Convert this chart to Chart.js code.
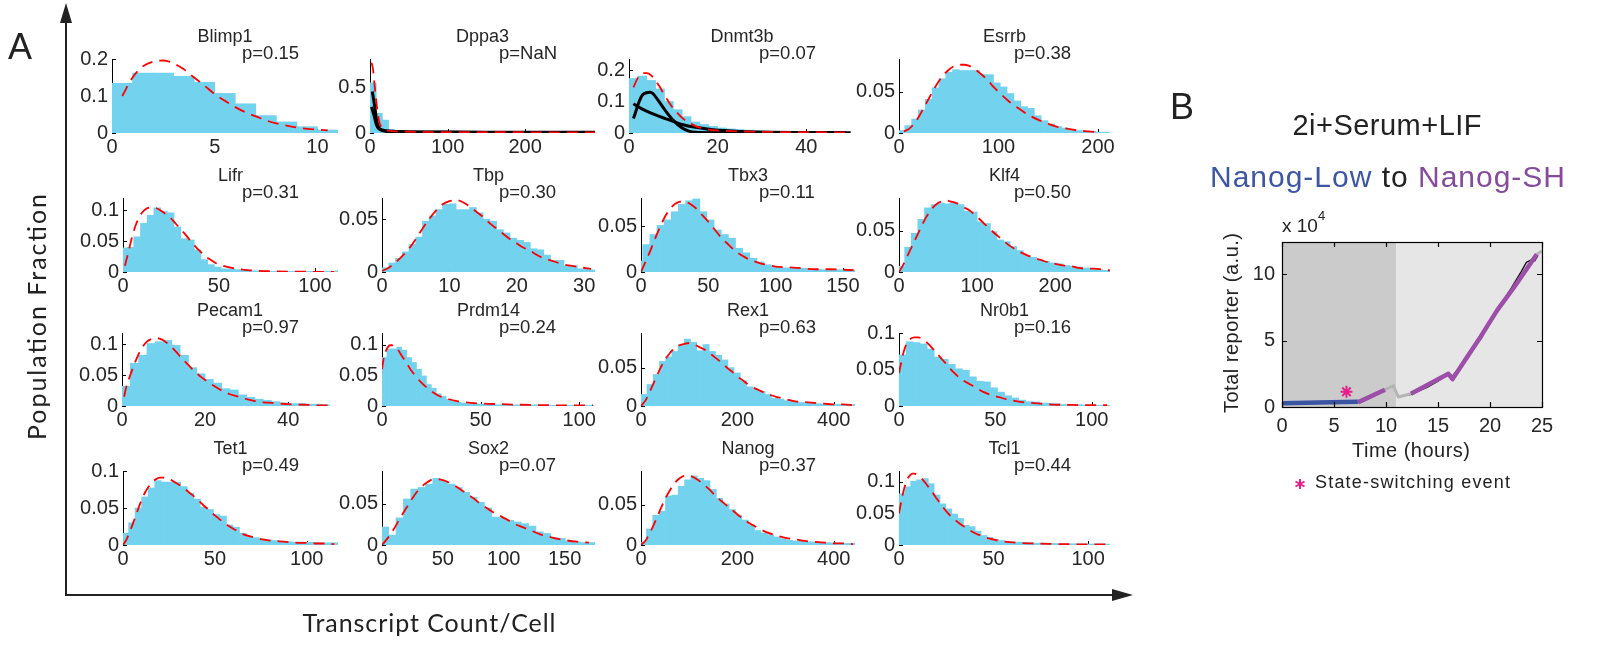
<!DOCTYPE html>
<html>
<head>
<meta charset="utf-8">
<script src="https://cdn.jsdelivr.net/npm/chart.js@4.4.1/dist/chart.umd.min.js"></script>
<style>
  body { margin: 0; background: #fff; }
  #page { position: relative; width: 1598px; height: 647px; overflow: hidden; background: #fff; }
  #page canvas { position: absolute; }
  #overlay { position: absolute; left: 0; top: 0; pointer-events: none; }
</style>
</head>
<body>
<div id="page">
  <svg id="overlay" width="1598" height="647">
    <!-- big axes arrows for panel A -->
    <line x1="66" y1="596" x2="66" y2="20" stroke="#222" stroke-width="2"/>
    <polygon points="66,3 60,23 72,23" fill="#222"/>
    <line x1="65" y1="595" x2="1114" y2="595" stroke="#222" stroke-width="2"/>
    <polygon points="1133,595 1112,589 1112,601" fill="#222"/>
    <text x="8" y="59" font-family="Liberation Sans, Arial, sans-serif" font-size="36" fill="#222">A</text>
    <text transform="translate(46,317) rotate(-90)" text-anchor="middle" font-family="Lato, sans-serif" font-size="25" fill="#222" textLength="246">Population Fraction</text>
    <text x="429" y="632" text-anchor="middle" font-family="Lato, sans-serif" font-size="25" fill="#222" textLength="253">Transcript Count/Cell</text>

    <text x="1170" y="119" font-family="Liberation Sans, Arial, sans-serif" font-size="36" fill="#222">B</text>
    <text x="1387" y="135" text-anchor="middle" font-family="Liberation Sans, Arial, sans-serif" font-size="29" fill="#222" textLength="189">2i+Serum+LIF</text>
    <text x="1210" y="187" font-family="Liberation Sans, Arial, sans-serif" font-size="30" textLength="355"><tspan fill="#3c56a5">Nanog-Low</tspan><tspan fill="#222"> to </tspan><tspan fill="#874a9c">Nanog-SH</tspan></text>
    <text x="1282" y="232" font-family="Liberation Sans, Arial, sans-serif" font-size="19" fill="#222">x 10<tspan font-size="13" dy="-12">4</tspan></text>
    <text transform="translate(1238,323) rotate(-90)" text-anchor="middle" font-family="Liberation Sans, Arial, sans-serif" font-size="20" fill="#222" textLength="180">Total reporter (a.u.)</text>
    <text x="1411" y="457" text-anchor="middle" font-family="Liberation Sans, Arial, sans-serif" font-size="20" fill="#222" textLength="118">Time (hours)</text>
    <g stroke="#e5208a" stroke-width="2" transform="translate(1300,484)">
      <line x1="0" y1="-5" x2="0" y2="5"/>
      <line x1="-4.5" y1="-2.5" x2="4.5" y2="2.5"/>
      <line x1="-4.5" y1="2.5" x2="4.5" y2="-2.5"/>
    </g>
    <text x="1315" y="488" font-family="Liberation Sans, Arial, sans-serif" font-size="18" fill="#222" textLength="195">State-switching event</text>
  </svg>
</div>
<script>
// ---------- panel A: transcript count histograms ----------
const genes = ['Blimp1', 'Dppa3', 'Dnmt3b', 'Esrrb',
               'Lifr', 'Tbp', 'Tbx3', 'Klf4',
               'Pecam1', 'Prdm14', 'Rex1', 'Nr0b1',
               'Tet1', 'Sox2', 'Nanog', 'Tcl1'];
const pValues = ['0.15', 'NaN', '0.07', '0.38',
                 '0.31', '0.30', '0.11', '0.50',
                 '0.97', '0.24', '0.63', '0.16',
                 '0.49', '0.07', '0.37', '0.44'];
// histogram bin width and left edge of the first bin
const binWidths = [1, 8, 2, 6.85, 3.5, 1, 5.3, 8.44, 2, 2.5, 12.9, 3.65, 3.55, 6.05, 13.2, 3.1];
const binStarts = [0, 0, 0, -1, -1.4, 0, -4, -1.2, 0, 0, -0.4, 0, -0.5, -0.6, -2, 0];
const xMaxes = [11, 290, 51, 212, 112, 31.6, 159, 270, 52, 108, 444, 109.5, 117, 175, 444, 111.6];
const yMaxes = [0.2, 0.82, 0.235, 0.09, 0.12, 0.07, 0.081, 0.09, 0.118, 0.119, 0.095, 0.1, 0.1, 0.09, 0.092, 0.117];
const xTickSets = [[0, 5, 10], [0, 100, 200], [0, 20, 40], [0, 100, 200],
                   [0, 50, 100], [0, 10, 20, 30], [0, 50, 100, 150], [0, 100, 200],
                   [0, 20, 40], [0, 50, 100], [0, 200, 400], [0, 50, 100],
                   [0, 50, 100], [0, 50, 100, 150], [0, 200, 400], [0, 50, 100]];
const yTickSets = [[0, 0.1, 0.2], [0, 0.5], [0, 0.1, 0.2], [0, 0.05],
                   [0, 0.05, 0.1], [0, 0.05], [0, 0.05], [0, 0.05],
                   [0, 0.05, 0.1], [0, 0.05, 0.1], [0, 0.05], [0, 0.05, 0.1],
                   [0, 0.05, 0.1], [0, 0.05], [0, 0.05], [0, 0.05, 0.1]];

// histogram heights (fraction of cells per bin)
const blimp1Bins = [0.134, 0.162, 0.162, 0.153, 0.137, 0.107, 0.079, 0.047, 0.030, 0.017, 0.008];
const dppa3Bins = [0.556, 0.218, 0.143, 0.04, 0.02, 0.012, 0.008, 0.006, 0.005, 0.005, 0.004, 0.004,
  0.004, 0.003, 0.003, 0.003, 0.003, 0.003, 0.002, 0.002, 0.002, 0.002, 0.002, 0.002,
  0.002, 0.002, 0.002, 0.002, 0.002, 0.002, 0.002, 0.002, 0.002, 0.002, 0.002, 0.002];
const dnmt3bBins = [0.173, 0.181, 0.167, 0.14, 0.10, 0.074, 0.052, 0.035, 0.027, 0.021, 0.016, 0.013,
  0.011, 0.009, 0.007, 0.006, 0.005, 0.004, 0.004, 0.003, 0.003, 0.002, 0.002, 0.002, 0.002];
const esrrbBins = [0.003, 0.009, 0.017, 0.028, 0.041, 0.055, 0.066, 0.074, 0.077, 0.076, 0.076, 0.076,
  0.071, 0.071, 0.061, 0.056, 0.048, 0.039, 0.032, 0.030, 0.021, 0.015, 0.011, 0.008, 0.006, 0.004,
  0.003, 0.0025, 0.002, 0.001, 0.001];
const lifrBins = [0.039, 0.040, 0.057, 0.079, 0.092, 0.104, 0.098, 0.096, 0.073, 0.054, 0.052, 0.036,
  0.020, 0.012, 0.008, 0.005, 0.005, 0.004, 0.003, 0.002, 0.002, 0.002, 0.001, 0.001, 0.001, 0.001,
  0.001, 0.001, 0.001, 0.001, 0.001, 0.001, 0.002];
const tbpBins = [0.004, 0.0085, 0.013, 0.019, 0.026, 0.033, 0.048, 0.053, 0.059, 0.064, 0.0645, 0.059,
  0.059, 0.061, 0.056, 0.05, 0.048, 0.04, 0.037, 0.032, 0.030, 0.028, 0.022, 0.021, 0.016, 0.011,
  0.011, 0.006, 0.006, 0.003, 0.003, 0.002];
const tbx3Bins = [0.012, 0.030, 0.041, 0.051, 0.057, 0.066, 0.074, 0.078, 0.080, 0.066, 0.057, 0.046,
  0.041, 0.037, 0.026, 0.021, 0.015, 0.011, 0.008, 0.006, 0.0045, 0.0045, 0.004, 0.004, 0.003, 0.003,
  0.0025, 0.0025, 0.0025, 0.002, 0.002];
const klf4Bins = [0.007, 0.030, 0.047, 0.064, 0.078, 0.082, 0.084, 0.083, 0.085, 0.082, 0.074, 0.073,
  0.061, 0.059, 0.049, 0.039, 0.037, 0.031, 0.026, 0.020, 0.018, 0.015, 0.013, 0.011, 0.010, 0.008,
  0.007, 0.006, 0.005, 0.0045, 0.003, 0.002, 0.002];
const pecam1Bins = [0.032, 0.069, 0.082, 0.101, 0.104, 0.106, 0.098, 0.082, 0.062, 0.052, 0.043, 0.037,
  0.028, 0.026, 0.018, 0.014, 0.011, 0.009, 0.007, 0.005, 0.004, 0.004, 0.003, 0.003, 0.002];
const prdm14Bins = [0.079, 0.093, 0.093, 0.096, 0.091, 0.079, 0.071, 0.060, 0.049, 0.035,
  0.029, 0.020, 0.016, 0.011, 0.008, 0.006, 0.005, 0.004, 0.004, 0.003,
  0.003, 0.003, 0.003, 0.002, 0.002, 0.002, 0.002, 0.002, 0.002, 0.002,
  0.002, 0.002, 0.001, 0.001, 0.001, 0.001, 0.001, 0.001, 0.001, 0.001, 0.001, 0.001, 0.001];
const rex1Bins = [0.015, 0.028, 0.041, 0.058, 0.064, 0.071, 0.080, 0.087, 0.083, 0.072, 0.080, 0.071,
  0.066, 0.060, 0.050, 0.043, 0.033, 0.025, 0.022, 0.019, 0.015, 0.010, 0.009, 0.007, 0.006, 0.0045,
  0.0045, 0.0035, 0.003, 0.0025, 0.002, 0.002, 0.002, 0.002, 0.002];
const nr0b1Bins = [0.070, 0.088, 0.087, 0.085, 0.078, 0.067, 0.064, 0.057, 0.051, 0.049, 0.040, 0.034,
  0.033, 0.025, 0.019, 0.014, 0.011, 0.008, 0.006, 0.0055, 0.004, 0.0037, 0.003, 0.002, 0.002, 0.002,
  0.0015, 0.001, 0.001, 0.001];
const tet1Bins = [0.016, 0.030, 0.050, 0.065, 0.077, 0.087, 0.085, 0.085, 0.085, 0.079, 0.070, 0.062,
  0.051, 0.048, 0.041, 0.039, 0.027, 0.024, 0.016, 0.011, 0.010, 0.008, 0.007, 0.006, 0.005, 0.0045,
  0.004, 0.004, 0.0036, 0.0036, 0.003, 0.003, 0.003, 0.003];
const sox2Bins = [0.022, 0.012, 0.033, 0.056, 0.068, 0.070, 0.074, 0.081, 0.078, 0.074, 0.070, 0.064,
  0.058, 0.052, 0.045, 0.034, 0.033, 0.030, 0.028, 0.026, 0.023, 0.016, 0.014, 0.009, 0.008, 0.005,
  0.004, 0.003, 0.003, 0.002];
const nanogBins = [0.003, 0.020, 0.037, 0.042, 0.061, 0.062, 0.073, 0.081, 0.086, 0.083, 0.080, 0.069,
  0.058, 0.051, 0.044, 0.037, 0.031, 0.025, 0.018, 0.015, 0.0125, 0.010, 0.008, 0.006, 0.005, 0.0045,
  0.004, 0.0037, 0.0033, 0.003, 0.0025, 0.0025, 0.002, 0.002];
const tcl1Bins = [0.081, 0.092, 0.101, 0.103, 0.105, 0.097, 0.079, 0.065, 0.057, 0.049, 0.042, 0.031,
  0.029, 0.022, 0.015, 0.012, 0.009, 0.007, 0.0055, 0.005, 0.0045, 0.004, 0.0035, 0.003, 0.003, 0.0027,
  0.0025, 0.002, 0.002, 0.002, 0.002, 0.0018, 0.0016, 0.0016, 0.0015, 0.0015];

// fitted distributions (red dashed)
const blimp1FitX = [0.5, 1, 1.5, 2, 2.5, 3, 3.5, 4, 4.5, 5, 5.5, 6, 6.5, 7, 7.5, 8, 8.5, 9, 9.5, 10, 10.5];
const blimp1FitY = [0.10, 0.15, 0.18, 0.193, 0.196, 0.188, 0.172, 0.15, 0.128, 0.105, 0.087, 0.07, 0.056,
  0.045, 0.034, 0.026, 0.02, 0.015, 0.011, 0.009, 0.007];
const dppa3FitX = [2, 4, 6, 8, 10, 12, 15, 20, 30, 50, 100, 150, 200, 250, 290];
const dppa3FitY = [0.78, 0.7, 0.52, 0.36, 0.22, 0.12, 0.06, 0.035, 0.02, 0.014, 0.01, 0.009, 0.008, 0.007, 0.007];
const dnmt3bFitX = [1, 2, 3, 4, 5, 6, 7, 8, 9, 10, 11, 12, 13, 14, 15, 16, 18, 20, 25, 30, 35, 40, 45, 50];
const dnmt3bFitY = [0.145, 0.175, 0.19, 0.19, 0.183, 0.165, 0.145, 0.12, 0.098, 0.078, 0.062, 0.048, 0.037,
  0.029, 0.022, 0.017, 0.011, 0.008, 0.005, 0.004, 0.003, 0.003, 0.002, 0.002];
const esrrbFitX = [5, 10, 15, 20, 25, 30, 35, 40, 45, 50, 55, 60, 65, 70, 75, 80, 85, 90, 95, 100, 110, 120,
  130, 140, 150, 160, 170, 180, 190, 200];
const esrrbFitY = [0.002, 0.005, 0.011, 0.02, 0.031, 0.042, 0.053, 0.063, 0.071, 0.077, 0.081, 0.083, 0.083,
  0.082, 0.079, 0.074, 0.069, 0.063, 0.056, 0.05, 0.039, 0.03, 0.022, 0.016, 0.011, 0.007, 0.005, 0.003,
  0.002, 0.001];
const lifrFitX = [1, 3, 5, 7, 9, 11, 13, 15, 17, 19, 21, 23, 25, 27, 29, 31, 33, 35, 37, 39, 41, 43, 45, 48,
  52, 56, 60, 65, 70, 80, 90, 100, 110];
const lifrFitY = [0.01, 0.035, 0.06, 0.079, 0.092, 0.1, 0.104, 0.105, 0.104, 0.101, 0.097, 0.092, 0.087, 0.08,
  0.073, 0.066, 0.059, 0.051, 0.044, 0.037, 0.031, 0.025, 0.021, 0.015, 0.01, 0.007, 0.005, 0.003, 0.002,
  0.001, 0.0006, 0.0003, 0.0002];
const tbpFitX = [0, 1, 2, 3, 4, 5, 6, 7, 8, 9, 10, 11, 12, 13, 14, 15, 16, 17, 18, 19, 20, 21, 22, 23, 24,
  25, 26, 27, 28, 29, 30, 31];
const tbpFitY = [0.001, 0.004, 0.009, 0.015, 0.022, 0.031, 0.041, 0.05, 0.058, 0.064, 0.067, 0.068, 0.066,
  0.062, 0.057, 0.052, 0.046, 0.041, 0.036, 0.031, 0.027, 0.023, 0.02, 0.016, 0.013, 0.011, 0.009, 0.007,
  0.006, 0.005, 0.004, 0.003];
const tbx3FitX = [0, 3, 6, 9, 12, 15, 18, 21, 24, 27, 30, 33, 36, 39, 42, 45, 50, 55, 60, 65, 70, 75, 80,
  90, 100, 110, 120, 130, 140, 150, 158];
const tbx3FitY = [0, 0.01, 0.02, 0.031, 0.042, 0.052, 0.061, 0.068, 0.073, 0.076, 0.077, 0.077, 0.075, 0.072,
  0.068, 0.063, 0.055, 0.046, 0.037, 0.03, 0.023, 0.018, 0.014, 0.009, 0.006, 0.005, 0.004, 0.003, 0.003,
  0.0025, 0.002];
const klf4FitX = [0, 5, 10, 15, 20, 25, 30, 35, 40, 45, 50, 55, 60, 65, 70, 75, 80, 90, 100, 110, 120, 130,
  140, 150, 160, 170, 180, 190, 200, 210, 220, 230, 240, 250, 260, 270];
const klf4FitY = [0, 0.008, 0.018, 0.028, 0.038, 0.048, 0.058, 0.067, 0.074, 0.08, 0.084, 0.086, 0.087, 0.086,
  0.085, 0.083, 0.08, 0.075, 0.067, 0.058, 0.049, 0.041, 0.033, 0.027, 0.022, 0.018, 0.015, 0.012, 0.01,
  0.008, 0.007, 0.005, 0.004, 0.004, 0.003, 0.002];
const pecam1FitX = [0.5, 1, 2, 3, 4, 5, 6, 7, 8, 9, 10, 11, 12, 13, 14, 15, 16, 17, 18, 19, 20, 22, 24, 26,
  28, 30, 32, 34, 36, 38, 40, 44, 48, 50];
const pecam1FitY = [0.015, 0.03, 0.05, 0.068, 0.084, 0.096, 0.104, 0.108, 0.11, 0.109, 0.106, 0.101, 0.095,
  0.088, 0.08, 0.073, 0.066, 0.059, 0.053, 0.047, 0.042, 0.033, 0.025, 0.019, 0.015, 0.011, 0.008, 0.006,
  0.005, 0.004, 0.003, 0.002, 0.001, 0.001];
const prdm14FitX = [0, 1, 2, 3, 4, 5, 6, 7, 8, 9, 10, 11, 12, 13, 14, 15, 16, 17, 18, 20, 22, 24, 26, 28,
  30, 32, 34, 38, 42, 50, 60, 70, 80, 90, 100, 107];
const prdm14FitY = [0.06, 0.08, 0.09, 0.096, 0.099, 0.099, 0.098, 0.096, 0.092, 0.087, 0.082, 0.077, 0.072,
  0.067, 0.062, 0.057, 0.053, 0.049, 0.045, 0.038, 0.032, 0.027, 0.022, 0.018, 0.015, 0.013, 0.011, 0.008,
  0.006, 0.004, 0.003, 0.002, 0.0015, 0.001, 0.001, 0.001];
const rex1FitX = [0, 10, 20, 30, 40, 50, 60, 70, 80, 90, 100, 110, 120, 130, 140, 150, 160, 170, 180, 190,
  200, 210, 220, 230, 240, 250, 260, 270, 280, 300, 320, 340, 360, 380, 400, 420, 440];
const rex1FitY = [0, 0.008, 0.021, 0.035, 0.049, 0.06, 0.069, 0.075, 0.079, 0.081, 0.082, 0.08, 0.077, 0.074,
  0.07, 0.065, 0.06, 0.055, 0.049, 0.044, 0.038, 0.034, 0.029, 0.025, 0.022, 0.019, 0.016, 0.014, 0.012,
  0.009, 0.006, 0.005, 0.004, 0.003, 0.002, 0.002, 0.001];
const nr0b1FitX = [0, 1, 2, 3, 4, 5, 6, 8, 10, 12, 14, 16, 18, 20, 22, 24, 26, 28, 30, 32, 34, 36, 38, 40,
  44, 48, 52, 56, 60, 65, 70, 80, 90, 100, 108];
const nr0b1FitY = [0.045, 0.058, 0.07, 0.079, 0.085, 0.089, 0.092, 0.094, 0.094, 0.092, 0.088, 0.083, 0.077,
  0.071, 0.065, 0.059, 0.053, 0.047, 0.042, 0.037, 0.034, 0.031, 0.028, 0.025, 0.019, 0.015, 0.012, 0.009,
  0.007, 0.005, 0.004, 0.002, 0.0015, 0.001, 0.001];
const tet1FitX = [0, 2, 4, 6, 8, 10, 12, 14, 16, 18, 20, 22, 24, 26, 28, 30, 32, 34, 36, 38, 40, 42, 44, 46,
  48, 50, 54, 58, 62, 66, 70, 75, 80, 85, 90, 95, 100, 105, 110, 115];
const tet1FitY = [0, 0.008, 0.02, 0.033, 0.047, 0.06, 0.071, 0.079, 0.085, 0.089, 0.091, 0.091, 0.09, 0.088,
  0.085, 0.082, 0.079, 0.075, 0.071, 0.067, 0.062, 0.058, 0.053, 0.049, 0.044, 0.04, 0.032, 0.025, 0.019,
  0.014, 0.011, 0.008, 0.006, 0.005, 0.004, 0.003, 0.003, 0.002, 0.002, 0.001];
const sox2FitX = [0, 5, 10, 15, 20, 25, 30, 35, 40, 45, 50, 55, 60, 65, 70, 75, 80, 85, 90, 95, 100, 105,
  110, 115, 120, 130, 140, 150, 160, 170];
const sox2FitY = [0, 0.009, 0.02, 0.033, 0.045, 0.057, 0.067, 0.074, 0.079, 0.08, 0.079, 0.076, 0.072, 0.067,
  0.062, 0.057, 0.051, 0.046, 0.041, 0.037, 0.033, 0.029, 0.025, 0.022, 0.019, 0.013, 0.009, 0.006, 0.004,
  0.003];
const nanogFitX = [0, 10, 20, 30, 40, 50, 60, 70, 80, 90, 100, 110, 120, 130, 140, 150, 160, 170, 180, 190,
  200, 220, 240, 260, 280, 300, 320, 340, 360, 380, 400, 420, 440];
const nanogFitY = [0, 0.006, 0.017, 0.03, 0.044, 0.057, 0.068, 0.077, 0.083, 0.086, 0.086, 0.084, 0.08, 0.075,
  0.07, 0.064, 0.058, 0.053, 0.048, 0.043, 0.038, 0.029, 0.022, 0.016, 0.012, 0.009, 0.007, 0.005, 0.004,
  0.003, 0.002, 0.002, 0.001];
const tcl1FitX = [0, 1, 2, 3, 4, 5, 6, 7, 8, 9, 10, 11, 12, 14, 16, 18, 20, 22, 24, 26, 28, 30, 32, 34, 36,
  40, 44, 48, 52, 56, 60, 70, 80, 90, 100, 110];
const tcl1FitY = [0.05, 0.066, 0.08, 0.092, 0.101, 0.107, 0.111, 0.113, 0.113, 0.112, 0.11, 0.108, 0.105,
  0.098, 0.09, 0.082, 0.073, 0.065, 0.057, 0.05, 0.044, 0.039, 0.034, 0.03, 0.026, 0.019, 0.014, 0.01,
  0.0075, 0.0055, 0.004, 0.0025, 0.0017, 0.0012, 0.001, 0.001];

// model curves (black) for the two non-fitting genes
const dppa3ModelAX = [3, 6, 9, 12, 20, 40, 100, 200, 290];
const dppa3ModelAY = [0.46, 0.3, 0.12, 0.05, 0.025, 0.015, 0.01, 0.008, 0.007];
const dppa3ModelBX = [2, 5, 8, 11, 20, 50, 100, 200, 290];
const dppa3ModelBY = [0.29, 0.2, 0.1, 0.05, 0.02, 0.012, 0.008, 0.006, 0.006];
const dnmt3bModelAX = [1, 3, 5, 6.5, 8, 10, 12, 13.5, 15, 20, 30, 40, 50];
const dnmt3bModelAY = [0.046, 0.12, 0.129, 0.105, 0.075, 0.04, 0.016, 0.006, 0.002, 0.001, 0.001, 0.001, 0.001];
const dnmt3bModelBX = [1, 3, 5, 7, 9, 12, 15, 19, 25, 32, 40, 49];
const dnmt3bModelBY = [0.093, 0.076, 0.063, 0.052, 0.042, 0.027, 0.018, 0.01, 0.005, 0.002, 0.0015, 0.001];

const binHeights = [blimp1Bins, dppa3Bins, dnmt3bBins, esrrbBins, lifrBins, tbpBins, tbx3Bins, klf4Bins,
  pecam1Bins, prdm14Bins, rex1Bins, nr0b1Bins, tet1Bins, sox2Bins, nanogBins, tcl1Bins];
const fitXs = [blimp1FitX, dppa3FitX, dnmt3bFitX, esrrbFitX, lifrFitX, tbpFitX, tbx3FitX, klf4FitX,
  pecam1FitX, prdm14FitX, rex1FitX, nr0b1FitX, tet1FitX, sox2FitX, nanogFitX, tcl1FitX];
const fitYs = [blimp1FitY, dppa3FitY, dnmt3bFitY, esrrbFitY, lifrFitY, tbpFitY, tbx3FitY, klf4FitY,
  pecam1FitY, prdm14FitY, rex1FitY, nr0b1FitY, tet1FitY, sox2FitY, nanogFitY, tcl1FitY];
const modelCurves = {
  Dppa3: [[dppa3ModelAX, dppa3ModelAY], [dppa3ModelBX, dppa3ModelBY]],
  Dnmt3b: [[dnmt3bModelAX, dnmt3bModelAY], [dnmt3bModelBX, dnmt3bModelBY]]
};

// ---------- panel B: single-cell reporter trace ----------
const phaseEdges = [0, 11, 25];
const lowTime = [0, 3.5, 7.3];
const lowReporter = [0.28, 0.33, 0.4];
const shTime = [7.3, 9.9, 11, 12.4, 16.0, 16.4, 17.5, 19.1, 20.7, 22.3, 24.5];
const shReporter = [0.35, 1.3, null, 1.0, 2.5, 2.1, 3.4, 5.3, 7.3, 9.0, 11.5];
const grayTime = [9.9, 10.7, 11.2, 12.4, 18, 24.5, 25];
const grayReporter = [1.3, 1.6, 0.75, 1.0, null, 11.5, 11.75];
const rawTime = [12.2, 13.0, 14.0, 15.0, 16.0, 16.4, 17.0, 18.0, 18.6, 19.2, 20.0, 21.0, 22.0, 23.0, 23.5, 24.0, 24.3, 24.6];
const rawReporter = [0.9, 1.15, 1.5, 1.95, 2.5, 2.35, 2.9, 3.9, 4.6, 5.2, 6.4, 7.7, 8.9, 10.2, 10.9, 11.1, 11.0, 11.4];
const switchTime = [6.2];
const switchReporter = [1.15];
const timeTicks = [0, 5, 10, 15, 20, 25];
const reporterTicks = [0, 5, 10];

// ---------- layout ----------
const plotLeft = [[112, 370, 629, 899], [123, 382, 641, 899], [122, 382, 641, 899], [123, 382, 641, 899]];
const plotRight = [338, 595, 855, 1110];
const rowTop = [59, 198, 333, 471];
const rowBottom = [133, 272, 406, 545];
const AXIS_W = 55, PAD_T = 45, PAD_R = 25, XAXIS_H = 30;

const HIST_BLUE = 'rgb(115, 210, 238)';
const FONT = '"Liberation Sans", Arial, sans-serif';
const TEXT = '#262626';

const page = document.getElementById('page');
const overlay = document.getElementById('overlay');

function makeCanvas(left, top, w, h) {
  const cv = document.createElement('canvas');
  cv.width = w; cv.height = h;
  cv.style.left = left + 'px'; cv.style.top = top + 'px';
  cv.style.width = w + 'px'; cv.style.height = h + 'px';
  page.insertBefore(cv, overlay);
  return cv;
}

function pairUp(xs, ys) {
  return xs.map((x, i) => ({ x: x, y: ys[i] }));
}

// inward tick marks + gene name / p value above each histogram
const histDecor = {
  id: 'histDecor',
  beforeDatasetsDraw(chart) {
    const { ctx, chartArea: a, scales: { x, y } } = chart;
    ctx.save();
    ctx.strokeStyle = '#000';
    ctx.lineWidth = 1;
    ctx.beginPath();
    y.ticks.forEach(t => {
      const py = Math.round(y.getPixelForValue(t.value)) + 0.5;
      ctx.moveTo(a.left, py); ctx.lineTo(a.left + 4, py);
    });
    x.ticks.forEach(t => {
      const px = Math.round(x.getPixelForValue(t.value)) + 0.5;
      ctx.moveTo(px, a.bottom); ctx.lineTo(px, a.bottom - 4);
    });
    ctx.stroke();
    ctx.restore();
  },
  afterDraw(chart, args, opts) {
    const { ctx, chartArea: a } = chart;
    ctx.save();
    ctx.fillStyle = TEXT;
    ctx.font = '18px ' + FONT;
    ctx.textBaseline = 'middle';
    ctx.textAlign = 'center';
    ctx.fillText(opts.gene, (a.left + a.right) / 2, a.top - 22);
    ctx.textAlign = 'left';
    ctx.font = '18.5px ' + FONT;
    ctx.fillText('p=' + opts.p, a.right - 96, a.top - 5);
    ctx.restore();
  }
};

genes.forEach((gene, k) => {
  const row = Math.floor(k / 4), col = k % 4;
  const left = plotLeft[row][col], right = plotRight[col];
  const top = rowTop[row], bottom = rowBottom[row];
  const w = right - left + AXIS_W + PAD_R;
  const h = bottom - top + PAD_T + XAXIS_H;
  const cv = makeCanvas(left - AXIS_W, top - PAD_T, w, h);

  const bw = binWidths[k], b0 = binStarts[k];
  const datasets = [{
    type: 'bar',
    data: binHeights[k].map((v, i) => ({ x: b0 + (i + 0.5) * bw, y: v })),
    backgroundColor: HIST_BLUE,
    borderWidth: 0,
    barPercentage: 1,
    categoryPercentage: 1,
    order: 3
  }];
  (modelCurves[gene] || []).forEach(([mx, my]) => {
    datasets.push({
      type: 'line',
      data: pairUp(mx, my),
      borderColor: '#000',
      borderWidth: 3,
      pointRadius: 0,
      tension: 0.3,
      fill: false,
      order: 2
    });
  });
  datasets.push({
    type: 'line',
    data: pairUp(fitXs[k], fitYs[k]),
    borderColor: '#ff0000',
    borderWidth: 1.8,
    borderDash: [11, 7],
    pointRadius: 0,
    cubicInterpolationMode: 'monotone',
    fill: false,
    order: 1
  });

  new Chart(cv, {
    type: 'bar',
    data: { datasets: datasets },
    options: {
      responsive: false,
      animation: false,
      devicePixelRatio: 1,
      layout: { padding: { top: PAD_T, right: PAD_R, left: 0, bottom: 0 } },
      plugins: {
        legend: { display: false },
        tooltip: { enabled: false },
        histDecor: { gene: gene, p: pValues[k] }
      },
      scales: {
        x: {
          type: 'linear', min: 0, max: xMaxes[k], offset: false,
          grid: { display: false, drawTicks: false },
          border: { display: false },
          ticks: { color: TEXT, font: { family: FONT, size: 20 }, padding: 2, maxRotation: 0, autoSkip: false,
                   callback: v => String(v) },
          afterBuildTicks: s => { s.ticks = xTickSets[k].map(v => ({ value: v })); },
          afterFit: s => { s.height = XAXIS_H; }
        },
        y: {
          type: 'linear', min: 0, max: yMaxes[k],
          grid: { display: false, drawTicks: false },
          border: { display: true, color: '#000', width: 1 },
          ticks: { color: TEXT, font: { family: FONT, size: 20 }, padding: 4, autoSkip: false,
                   callback: v => String(v) },
          afterBuildTicks: s => { s.ticks = yTickSets[k].map(v => ({ value: v })); },
          afterFit: s => { s.width = AXIS_W; }
        }
      }
    },
    plugins: [histDecor]
  });
});

// ---------- panel B chart ----------
const B_LEFT = 1282, B_RIGHT = 1542, B_TOP = 242, B_BOTTOM = 407;
const B_AXIS_W = 50, B_PAD_T = 20, B_PAD_R = 25, B_XAXIS_H = 35;

const traceFrame = {
  id: 'traceFrame',
  beforeDatasetsDraw(chart) {
    const { ctx, chartArea: a, scales: { x } } = chart;
    const shades = ['#cbcbcb', '#e6e6e6'];
    ctx.save();
    for (let i = 0; i < phaseEdges.length - 1; i++) {
      const x0 = x.getPixelForValue(phaseEdges[i]);
      const x1 = x.getPixelForValue(phaseEdges[i + 1]);
      ctx.fillStyle = shades[i];
      ctx.fillRect(x0, a.top, x1 - x0, a.bottom - a.top);
    }
    ctx.restore();
  },
  afterDatasetsDraw(chart) {
    const { ctx, chartArea: a, scales: { x, y } } = chart;
    ctx.save();
    ctx.strokeStyle = '#000';
    ctx.lineWidth = 1.2;
    ctx.strokeRect(Math.round(a.left) + 0.5, Math.round(a.top) + 0.5,
                   Math.round(a.right - a.left), Math.round(a.bottom - a.top));
    ctx.beginPath();
    x.ticks.forEach(t => {
      const px = Math.round(x.getPixelForValue(t.value)) + 0.5;
      ctx.moveTo(px, a.bottom); ctx.lineTo(px, a.bottom - 5);
      ctx.moveTo(px, a.top); ctx.lineTo(px, a.top + 5);
    });
    y.ticks.forEach(t => {
      const py = Math.round(y.getPixelForValue(t.value)) + 0.5;
      ctx.moveTo(a.left, py); ctx.lineTo(a.left + 5, py);
      ctx.moveTo(a.right, py); ctx.lineTo(a.right - 5, py);
    });
    ctx.stroke();
    ctx.restore();
  }
};

const cvB = makeCanvas(B_LEFT - B_AXIS_W, B_TOP - B_PAD_T,
  B_RIGHT - B_LEFT + B_AXIS_W + B_PAD_R, B_BOTTOM - B_TOP + B_PAD_T + B_XAXIS_H);

new Chart(cvB, {
  type: 'line',
  data: {
    datasets: [
      { data: pairUp(rawTime, rawReporter), borderColor: '#111', borderWidth: 1.3, pointRadius: 0, order: 4 },
      { data: pairUp(grayTime, grayReporter), borderColor: '#b4b4b4', borderWidth: 3, pointRadius: 0,
        spanGaps: false, order: 3 },
      { data: pairUp(lowTime, lowReporter), borderColor: '#3a54a4', borderWidth: 4.5, pointRadius: 0, order: 2 },
      { data: pairUp(shTime, shReporter), borderColor: '#9c4ea8', borderWidth: 4.5, pointRadius: 0,
        spanGaps: false, borderJoinStyle: 'round', order: 1 },
      { type: 'scatter', data: pairUp(switchTime, switchReporter), pointStyle: 'star', pointRadius: 6,
        borderColor: '#e5208a', backgroundColor: '#e5208a', borderWidth: 2, order: 0 }
    ]
  },
  options: {
    responsive: false,
    animation: false,
    devicePixelRatio: 1,
    layout: { padding: { top: B_PAD_T, right: B_PAD_R, left: 0, bottom: 0 } },
    plugins: { legend: { display: false }, tooltip: { enabled: false } },
    scales: {
      x: {
        type: 'linear', min: 0, max: 25,
        grid: { display: false, drawTicks: false },
        border: { display: false },
        ticks: { color: TEXT, font: { family: FONT, size: 20 }, padding: 7, maxRotation: 0 },
        afterBuildTicks: s => { s.ticks = timeTicks.map(v => ({ value: v })); },
        afterFit: s => { s.height = B_XAXIS_H; }
      },
      y: {
        type: 'linear', min: 0, max: 12.43,
        grid: { display: false, drawTicks: false },
        border: { display: false },
        ticks: { color: TEXT, font: { family: FONT, size: 20 }, padding: 7 },
        afterBuildTicks: s => { s.ticks = reporterTicks.map(v => ({ value: v })); },
        afterFit: s => { s.width = B_AXIS_W; }
      }
    }
  },
  plugins: [traceFrame]
});
</script>
</body>
</html>
